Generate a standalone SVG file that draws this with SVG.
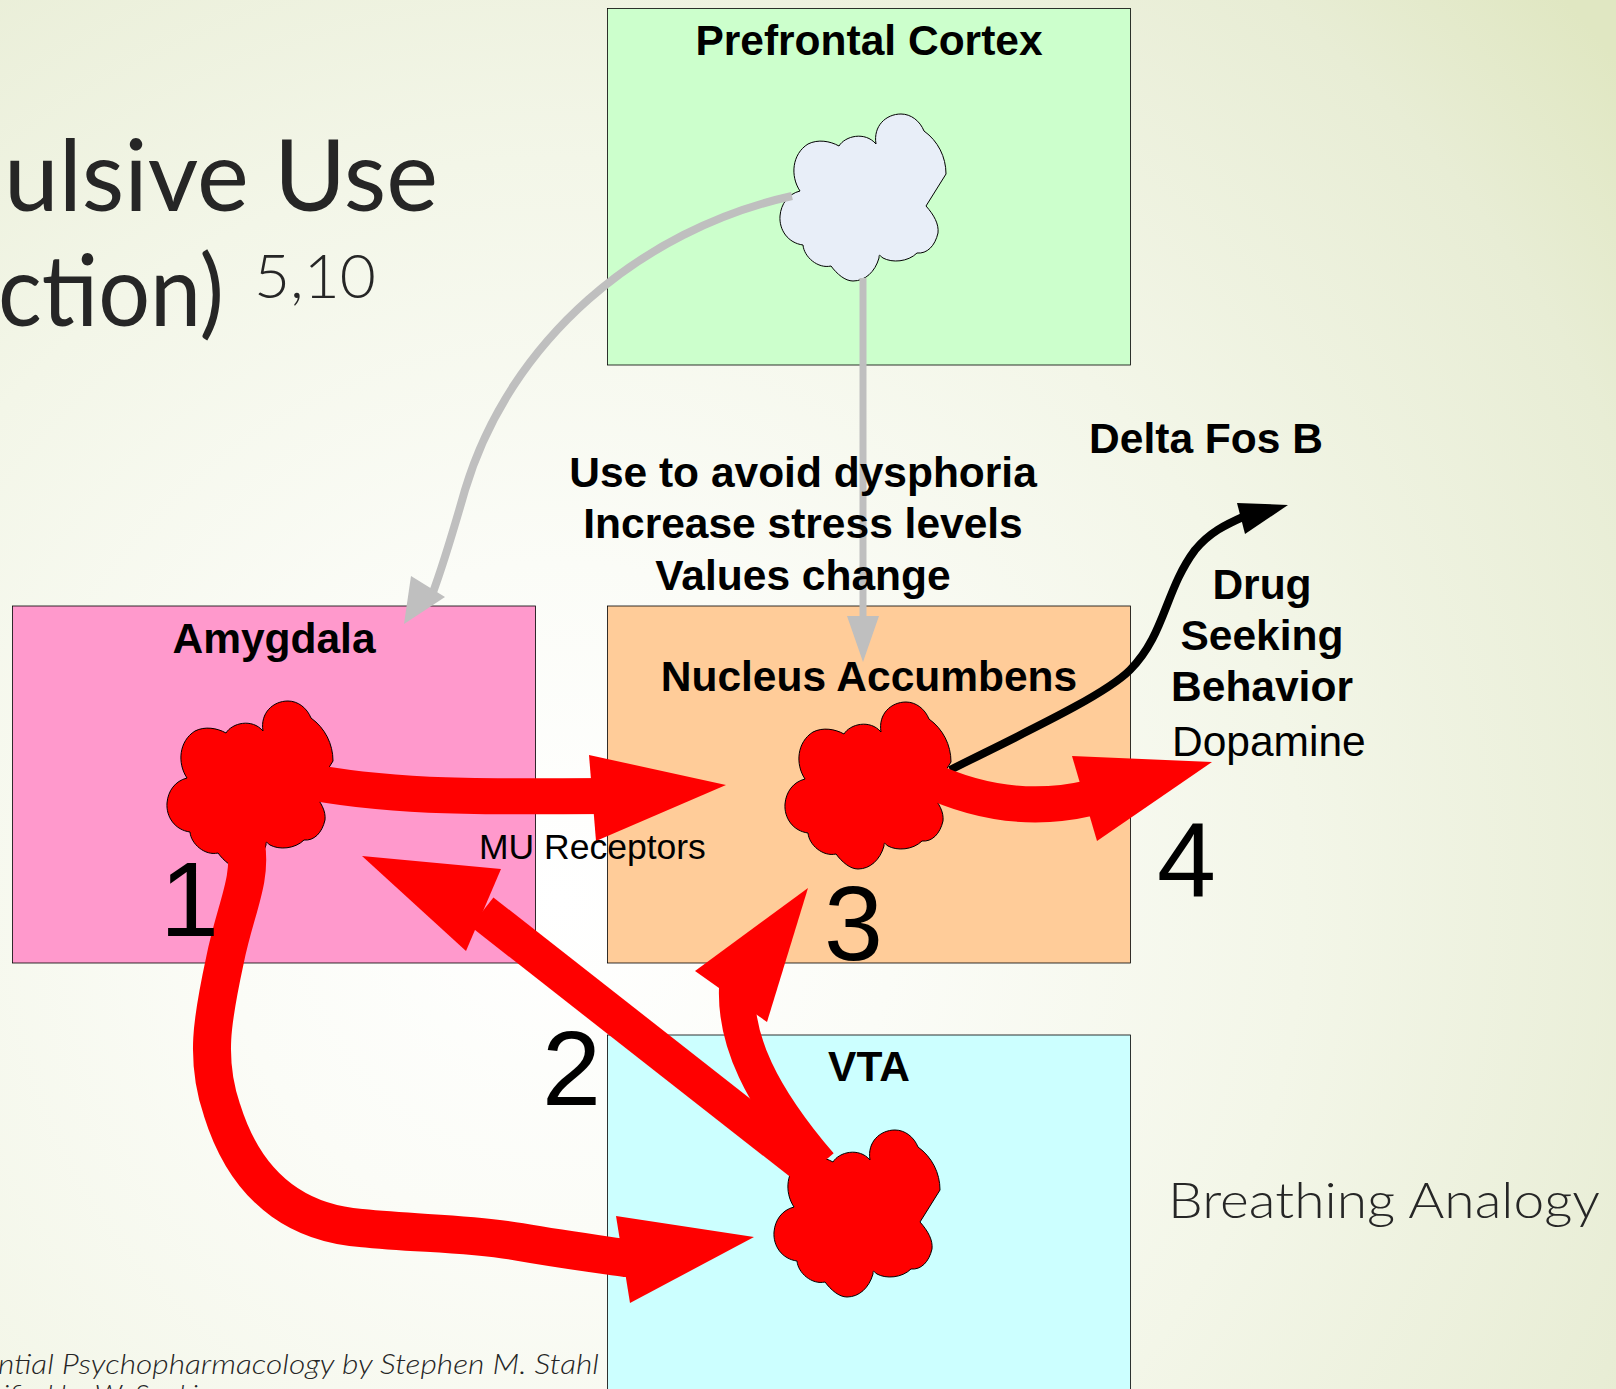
<svg xmlns="http://www.w3.org/2000/svg" width="1616" height="1389" viewBox="0 0 1616 1389">
<defs>
<radialGradient id="bg" gradientUnits="userSpaceOnUse" cx="560" cy="900" r="1350">
<stop offset="0" stop-color="#ffffff"/><stop offset="0.25" stop-color="#fbfcf7"/><stop offset="0.55" stop-color="#f3f6e8"/><stop offset="0.85" stop-color="#e8edd5"/><stop offset="1" stop-color="#e0e7c2"/>
</radialGradient>
<path id="cloud" stroke="#000" stroke-width="1" d="M96,30 C93,12 106,0 121,0 C131,0 140,7 144,17 C158,27 166,43 166,60 L146,92 C154,101 159,110 158,119 C155,132 147,140 137,139 C128,148 112,149 103,144 C100,142 99,139 99,144 C95,158 85,167 73,167 C65,167 57,160 51,152 C38,155 24,143 23,131 C8,129 -1,116 0,102 C1,90 8,80 20,77 C10,62 12,40 28,30 C38,25 50,27 59,32 C65,22 85,17 96,30 Z"/>
</defs>
<style>
.box{stroke:#000;stroke-width:.8}
.b{font-family:"Liberation Sans",Arial,sans-serif;font-weight:700;font-size:42.5px;fill:#000;text-anchor:middle}
.n{font-family:"Liberation Sans",Arial,sans-serif;font-size:106px;fill:#000}
.t{font-family:Lato,"Open Sans",sans-serif;fill:#262626}
.l{font-weight:300}
.gl{fill:none;stroke:#bfbfbf}
.rl{fill:none;stroke:#f00}
</style>
<rect width="1616" height="1389" fill="url(#bg)"/>
<g id="slide-text">
<text class="t" x="4" y="211" font-size="98" textLength="434" lengthAdjust="spacingAndGlyphs">ulsive Use</text>
<text class="t" x="-2" y="326" font-size="98" textLength="226" lengthAdjust="spacingAndGlyphs">ction)</text>
<text class="t l" x="254" y="298" font-size="62" textLength="122" lengthAdjust="spacingAndGlyphs">5,10</text>
<text class="t l" x="-2" y="1374" font-size="28" font-style="italic" textLength="601" lengthAdjust="spacingAndGlyphs">ntial Psychopharmacology by Stephen M. Stahl</text>
<text class="t l" x="3" y="1405" font-size="28" font-style="italic" textLength="210" lengthAdjust="spacingAndGlyphs">ified by W. Sankin</text>
<text class="t l" x="1168" y="1218" font-size="50" textLength="432" lengthAdjust="spacingAndGlyphs">Breathing Analogy</text>
</g>
<g id="prefrontal"><rect class="box" x="607.500" y="8.500" width="523" height="356.500" fill="#ccffcc"/><text class="b" x="869" y="55">Prefrontal Cortex</text><use href="#cloud" x="780" y="114" fill="#e8eef8"/></g>
<g id="amygdala"><rect class="box" x="12.500" y="606" width="523" height="357" fill="#ff99cc"/><text class="b" x="274" y="653">Amygdala</text><use href="#cloud" x="167" y="701" fill="#f00"/></g>
<g id="nucleus"><rect class="box" x="607.500" y="606" width="523" height="357" fill="#ffcc99"/><text class="b" x="869" y="691">Nucleus Accumbens</text><use href="#cloud" x="785" y="702" fill="#f00"/></g>
<g id="vta"><rect class="box" x="607.500" y="1035" width="523" height="360" fill="#ccffff"/><text class="b" x="869" y="1081">VTA</text><use href="#cloud" x="774" y="1130" fill="#f00"/></g>
<g id="connectors">
<path class="gl" stroke-width="8" d="M792,196 C640,230 510,340 465,490 C455,525 445,560 432,595"/>
<polygon fill="#bfbfbf" points="404,624 411,576 445,597"/>
<path class="gl" stroke-width="7" d="M863,278 L863,625"/>
<polygon fill="#bfbfbf" points="863,662 847,616 879,616"/>
<path fill="none" stroke="#000" stroke-width="8" d="M950,770 C1030,730 1105,695 1130,670 C1165,635 1165,590 1195,550 C1210,532 1225,525 1245,516"/>
<polygon fill="#000" points="1288,505 1237,503 1245,534"/>
<path class="rl" stroke-width="36" d="M300,780 C400,800 500,796 610,796"/>
<polygon fill="#f00" points="726,785 589,755 596,841"/>
<path class="rl" stroke-width="36" d="M925,778 C975,802 1030,812 1090,798"/>
<polygon fill="#f00" points="1212,762 1072,756 1097,841"/>
<path class="rl" stroke-width="37" d="M805,1165 L482,912"/>
<polygon fill="#f00" points="362,856 501,869 466,951"/>
<path class="rl" stroke-width="36" d="M820,1165 C760,1095 735,1040 737,988"/>
<polygon fill="#f00" points="808,888 695,971 767,1022"/>
<path class="rl" stroke-width="38" stroke-linecap="round" d="M246,845 C252,880 235,910 225,960 C212,1020 205,1060 222,1110 C250,1200 310,1224 361,1228 C420,1234 470,1233 520,1242 C560,1249 590,1253 625,1258"/>
<polygon fill="#f00" points="754,1237 616,1216 630,1303"/>
</g>
<g id="labels">
<text class="b" x="803" y="487">Use to avoid dysphoria</text>
<text class="b" x="803" y="538">Increase stress levels</text>
<text class="b" x="803" y="590">Values change</text>
<text class="b" x="1206" y="453">Delta Fos B</text>
<text class="b" x="1262" y="599">Drug</text>
<text class="b" x="1262" y="650">Seeking</text>
<text class="b" x="1262" y="701">Behavior</text>
<text x="1172" y="756" font-family="'Liberation Sans',Arial,sans-serif" font-size="42.500">Dopamine</text>
<text x="479" y="859" font-family="'Liberation Sans',Arial,sans-serif" font-size="35.500">MU Receptors</text>
<text class="n" x="160" y="936">1</text>
<text class="n" x="542" y="1105">2</text>
<text class="n" x="824" y="960">3</text>
<text class="n" x="1157" y="897">4</text>
</g>
</svg>
